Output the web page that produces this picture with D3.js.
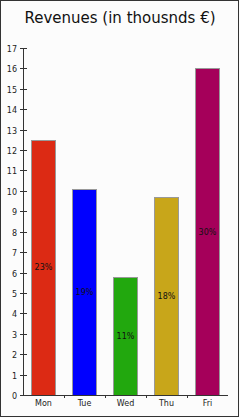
<!DOCTYPE html>
<html>
<head>
<meta charset="utf-8">
<script src="https://cdn.jsdelivr.net/npm/d3@7"></script>
<style>
  body { margin: 0; background: #fcfcfc; }
  svg { display: block; font-family: "DejaVu Sans", Verdana, sans-serif; }
</style>
</head>
<body>
<script>
const WIDTH = 240;
const HEIGHT = 418;

var days = ['Mon', 'Tue', 'Wed', 'Thu', 'Fri'];
var revenues = [12.5, 10.1, 5.8, 9.7, 16];
var colors = ['#dc2a14', '#0000ff', '#22a80e', '#c8a61a', '#a5005a'];
var yTicks = d3.range(0, 18);

var total = d3.sum(revenues);
var data = days.map(function (d, i) {
    return {day: d, value: revenues[i], color: colors[i]};
});

var svg = d3.select('body').append('svg')
    .attr('width', WIDTH)
    .attr('height', HEIGHT);

// frame
svg.append('rect')
    .attr('x', 0.5).attr('y', 0.5)
    .attr('width', WIDTH - 2).attr('height', HEIGHT - 2)
    .attr('fill', '#fcfcfc')
    .attr('stroke', '#333');

svg.append('text')
    .attr('x', WIDTH / 2)
    .attr('y', 23)
    .attr('text-anchor', 'middle')
    .attr('font-size', 15)
    .attr('fill', '#111')
    .text('Revenues (in thousnds €)');

var xScale = d3.scaleBand()
    .domain(days)
    .range([23, 228])
    .paddingInner(0.4)
    .paddingOuter(0.2);

var yScale = d3.scaleLinear()
    .domain([0, 17])
    .range([395, 48]);

// bars
svg.selectAll('rect.bar')
    .data(data)
    .enter()
    .append('rect')
    .classed('bar', true)
    .attr('x', function (d) { return Math.round(xScale(d.day)) + 0.5; })
    .attr('y', function (d) { return Math.round(yScale(d.value)) + 0.5; })
    .attr('width', Math.round(xScale.bandwidth()) - 1)
    .attr('height', function (d) { return Math.round(yScale(0)) - Math.round(yScale(d.value)); })
    .attr('fill', function (d) { return d.color; })
    .attr('stroke', '#999');

// percent labels
svg.selectAll('text.pct')
    .data(data)
    .enter()
    .append('text')
    .classed('pct', true)
    .attr('x', function (d) { return xScale(d.day) + xScale.bandwidth() / 2; })
    .attr('y', function (d) { return yScale(d.value / 2) + 3; })
    .attr('text-anchor', 'middle')
    .attr('font-size', 8)
    .attr('fill', '#111')
    .text(function (d) { return Math.round(d.value / total * 100) + '%'; });

// y axis
var yAxis = svg.append('g');
yAxis.append('line')
    .attr('x1', 23.5).attr('x2', 23.5)
    .attr('y1', yScale(17)).attr('y2', yScale(0))
    .attr('stroke', '#333');
var yt = yAxis.selectAll('g.tick')
    .data(yTicks)
    .enter()
    .append('g')
    .attr('transform', function (d) { return 'translate(0,' + (Math.round(yScale(d)) + 0.5) + ')'; });
yt.append('line')
    .attr('x1', 20).attr('x2', 27)
    .attr('stroke', '#333');
yt.append('text')
    .attr('x', 17)
    .attr('y', 3)
    .attr('text-anchor', 'end')
    .attr('font-size', 8)
    .attr('fill', '#222')
    .text(function (d) { return d; });

// x axis
var xAxis = svg.append('g');
xAxis.append('line')
    .attr('x1', 23).attr('x2', 228)
    .attr('y1', 395.5).attr('y2', 395.5)
    .attr('stroke', '#333');
xAxis.selectAll('line.xtick')
    .data(days.slice(1))
    .enter()
    .append('line')
    .classed('xtick', true)
    .attr('x1', function (d) { return Math.round(xScale(d) - xScale.step() * 0.2) + 0.5; })
    .attr('x2', function (d) { return Math.round(xScale(d) - xScale.step() * 0.2) + 0.5; })
    .attr('y1', 395).attr('y2', 398)
    .attr('stroke', '#333');
xAxis.selectAll('text')
    .data(days)
    .enter()
    .append('text')
    .attr('x', function (d) { return xScale(d) + xScale.bandwidth() / 2; })
    .attr('y', 406)
    .attr('text-anchor', 'middle')
    .attr('font-size', 8)
    .attr('fill', '#222')
    .text(function (d) { return d; });
</script>
</body>
</html>
